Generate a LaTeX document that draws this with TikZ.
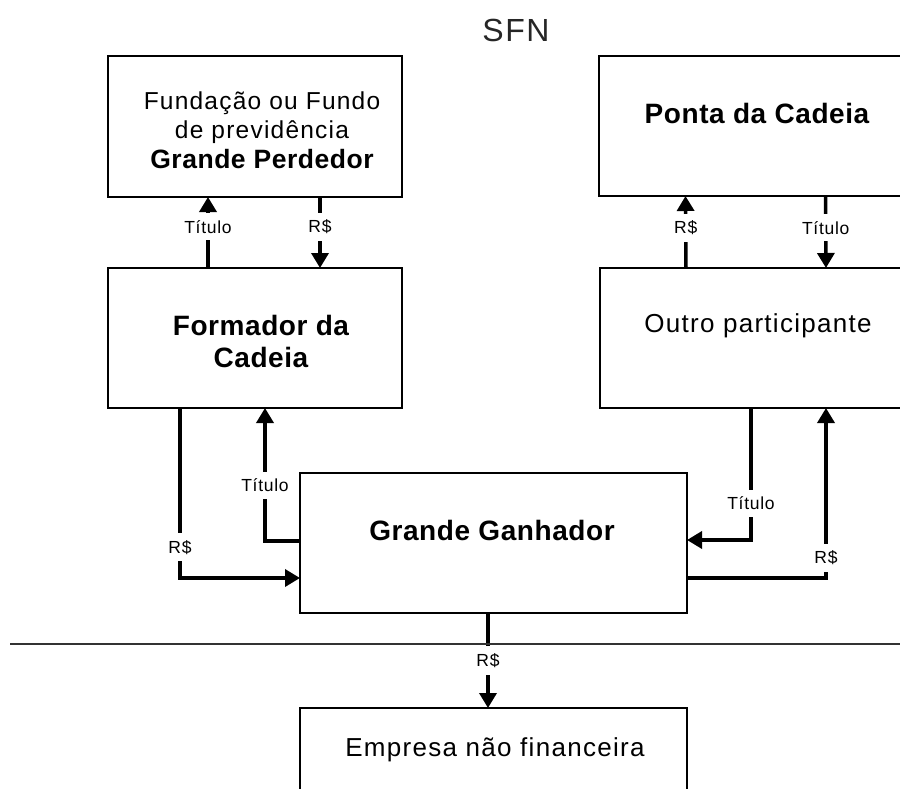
\documentclass[tikz,border=0pt]{standalone}
\usepackage{fontspec}
\setmainfont{Liberation Sans}
\newfontfamily\regls[LetterSpace=5]{Liberation Sans}
\newfontfamily\boldls[LetterSpace=2]{Liberation Sans}
\newfontfamily\labls[LetterSpace=4]{Liberation Sans}
\usetikzlibrary{arrows.meta}
\begin{document}
\begin{tikzpicture}[x=1pt,y=-1pt,
  box/.style={draw, line width=1.3pt, inner sep=0pt, outer sep=0pt},
  arr/.style={line width=3.5pt, -{Triangle[length=15pt,width=17pt]}},
  lab/.style={fill=white, inner xsep=1pt, inner ysep=7pt, font=\labls\fontsize{17.5}{19}\selectfont},
  reg/.style={font=\regls\fontsize{26}{30}\selectfont, align=center},
  bld/.style={font=\boldls\fontsize{28}{32}\selectfont\bfseries, align=center},
]
\useasboundingbox (0,0) rectangle (900,789);
\clip (0,0) rectangle (900,789);
% title
\node[font=\regls\fontsize{32}{36}\selectfont, text=black!85] (sfn) at (516,30) {SFN};
% boxes
\node[box, minimum width=294pt, minimum height=141pt] (fund) at (255,126.5) {};
\node[box, minimum width=312pt, minimum height=140pt] (ponta) at (755,126) {};
\node[box, minimum width=294pt, minimum height=140pt] (formador) at (255,338) {};
\node[box, minimum width=311pt, minimum height=140pt] (outro) at (755.5,338) {};
\node[box, minimum width=387pt, minimum height=140pt] (grande) at (493.5,543) {};
\node[box, minimum width=387pt, minimum height=142pt] (empresa) at (493.5,779) {};
% texts
\node[font=\regls\fontsize{24.5}{29.5}\selectfont, align=center] (tfund) at (262,130)
  {Fundação ou Fundo\\de previdência\\{\boldls\fontsize{26.5}{29.5}\selectfont\bfseries Grande Perdedor}};
\node[bld] (tponta) at (757,113) {Ponta da Cadeia};
\node[bld] (tformador) at (261,341) {Formador da\\Cadeia};
\node[reg] (toutro) at (758,326) {Outro participante};
\node[bld] (tgrande) at (492,530) {Grande Ganhador};
\node[reg] (tempresa) at (495,750) {Empresa não financeira};
% connectors
\draw[arr] ([xshift=-47pt]formador.north) -- node[lab,pos=0.58]{Título} ([xshift=-47pt]fund.south);
\draw[arr] ([xshift=65pt]fund.south) -- node[lab,pos=0.42]{R\$} ([xshift=65pt]formador.north);
\draw[arr] ([xshift=-69.5pt]outro.north) -- node[lab,pos=0.56]{R\$} ([xshift=-69.5pt]ponta.south);
\draw[arr] ([xshift=70.5pt]ponta.south) -- node[lab,pos=0.44]{Título} ([xshift=70.5pt]outro.north);
\draw[arr] ([xshift=-75pt]formador.south) |- node[lab,pos=0.41]{R\$} ([yshift=-35pt]grande.west);
\draw[arr] ([yshift=2pt]grande.west) -| node[lab,pos=0.71]{Título} ([xshift=10pt]formador.south);
\draw[arr] ([xshift=-4.5pt]outro.south) |- node[lab,pos=0.36]{Título} ([yshift=3pt]grande.east);
\draw[arr] ([yshift=-35pt]grande.east) -| node[lab,pos=0.56]{R\$} ([xshift=70.5pt]outro.south);
\draw[arr] ([xshift=-5.5pt]grande.south) -- node[lab]{R\$} ([xshift=-5.5pt]empresa.north);
% separator
\coordinate (hl) at (10,644);
\coordinate (hr) at (900,644);
\draw[line width=1.3pt, black!80] (hl) -- (hr);
\end{tikzpicture}
\end{document}
